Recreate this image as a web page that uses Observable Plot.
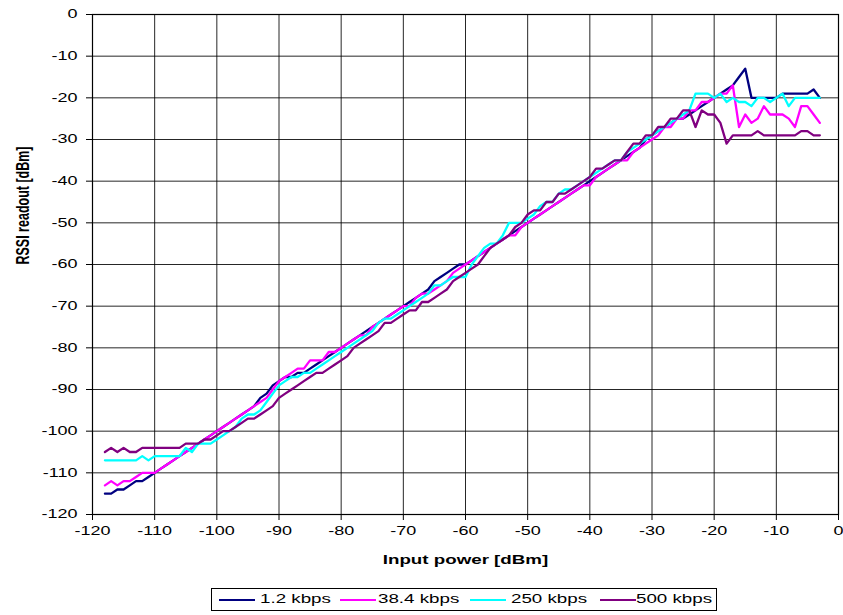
<!DOCTYPE html>
<html>
<head>
<meta charset="utf-8">
<script src="https://cdn.jsdelivr.net/npm/d3@7"></script>
<script src="https://cdn.jsdelivr.net/npm/@observablehq/plot@0.6"></script>
<style>
  html, body { margin: 0; padding: 0; background: #fff; }
  body { position: relative; width: 843px; height: 615px; font-family: "Liberation Sans", Arial, sans-serif; }
  #chart svg { display: block; }
  #legend { position: absolute; top: 588px; left: 211px; width: 506px; height: 23px; border: 1px solid #000; box-sizing: border-box; background: #fff; }
  #legend .ln { position: absolute; top: 10px; height: 2px; }
  #legend .tx { position: absolute; top: 3px; font-size: 12.5px; line-height: 15px; white-space: nowrap; transform: scaleX(1.5); transform-origin: 0 50%; color: #000; }
</style>
</head>
<body>
<div id="chart"></div>
<div id="legend"></div>
<script>
// ---- data ----
const xTitle = "Input power [dBm]";
const yTitle = "RSSI readout [dBm]";
const xTicks = [-120, -110, -100, -90, -80, -70, -60, -50, -40, -30, -20, -10, 0];
const yTicks = [-120, -110, -100, -90, -80, -70, -60, -50, -40, -30, -20, -10, 0];
const seriesNames = ["1.2 kbps", "38.4 kbps", "250 kbps", "500 kbps"];
const seriesColors = ["#000080", "#ff00ff", "#00ffff", "#800080"];

const inputPower = [
  -118,-117,-116,-115,-114,-113,-112,-111,-110,-109,
  -108,-107,-106,-105,-104,-103,-102,-101,-100,-99,
  -98,-97,-96,-95,-94,-93,-92,-91,-90,-89,
  -88,-87,-86,-85,-84,-83,-82,-81,-80,-79,
  -78,-77,-76,-75,-74,-73,-72,-71,-70,-69,
  -68,-67,-66,-65,-64,-63,-62,-61,-60,-59,
  -58,-57,-56,-55,-54,-53,-52,-51,-50,-49,
  -48,-47,-46,-45,-44,-43,-42,-41,-40,-39,
  -38,-37,-36,-35,-34,-33,-32,-31,-30,-29,
  -28,-27,-26,-25,-24,-23,-22,-21,-20,-19,
  -18,-17,-16,-15,-14,-13,-12,-11,-10,-9,
  -8,-7,-6,-5,-4,-3
];

const rssi1k2 = [
  -115,-115,-114,-114,-113,-112,-112,-111,-110,-109,
  -108,-107,-106,-105,-104,-103,-102,-101,-100,-99,
  -98,-97,-96,-95,-94,-92,-91,-89,-88,-87,
  -87,-86,-86,-85,-84,-83,-82,-81,-80,-79,
  -78,-77,-76,-75,-74,-73,-72,-71,-70,-69,
  -68,-67,-66,-64,-63,-62,-61,-60,-60,-59,
  -58,-57,-56,-55,-54,-53,-52,-51,-50,-49,
  -48,-47,-46,-45,-44,-43,-42,-41,-40,-39,
  -38,-37,-36,-35,-34,-33,-32,-30,-29,-28,
  -27,-26,-25,-25,-24,-23,-22,-21,-20,-19,
  -18,-17,-15,-13,-20,-20,-20,-20,-20,-19,
  -19,-19,-19,-19,-18,-20
];

const rssi38k4 = [
  -113,-112,-113,-112,-112,-111,-110,-110,-110,-109,
  -108,-107,-106,-105,-104,-103,-102,-101,-100,-99,
  -98,-97,-96,-95,-94,-93,-92,-90,-88,-87,
  -86,-85,-85,-83,-83,-83,-81,-81,-80,-79,
  -78,-77,-77,-75,-74,-73,-72,-71,-70,-70,
  -68,-67,-67,-66,-65,-64,-62,-61,-60,-59,
  -58,-57,-56,-55,-54,-53,-53,-51,-50,-49,
  -48,-47,-46,-45,-44,-43,-42,-41,-41,-39,
  -38,-37,-36,-35,-35,-33,-32,-31,-30,-29,
  -27,-27,-25,-25,-23,-23,-21,-21,-20,-19,
  -19,-17,-27,-24,-26,-25,-22,-24,-24,-24,
  -25,-27,-22,-22,-24,-26
];

const rssi250k = [
  -107,-107,-107,-107,-107,-107,-106,-107,-106,-106,
  -106,-106,-106,-104,-105,-103,-103,-103,-102,-101,
  -100,-99,-97,-96,-96,-95,-93,-91,-89,-88,
  -87,-87,-86,-86,-85,-84,-83,-82,-81,-80,
  -79,-78,-77,-76,-74,-73,-73,-72,-71,-70,
  -69,-68,-67,-65,-65,-64,-63,-63,-63,-60,
  -58,-56,-55,-55,-53,-50,-50,-50,-49,-48,
  -46,-45,-45,-43,-42,-42,-41,-40,-39,-38,
  -37,-36,-35,-35,-33,-32,-31,-30,-29,-28,
  -27,-26,-25,-24,-23,-19,-19,-19,-20,-19,
  -21,-20,-21,-21,-22,-20,-20,-21,-20,-19,
  -22,-20,-20,-20,-20,-20
];

const rssi500k = [
  -105,-104,-105,-104,-105,-105,-104,-104,-104,-104,
  -104,-104,-104,-103,-103,-103,-102,-102,-101,-100,
  -100,-99,-98,-97,-97,-96,-95,-94,-92,-91,
  -90,-89,-88,-87,-86,-86,-85,-84,-83,-82,
  -80,-79,-78,-77,-76,-74,-74,-73,-72,-71,
  -71,-69,-69,-68,-67,-66,-64,-63,-62,-61,
  -60,-58,-56,-55,-54,-53,-51,-50,-48,-47,
  -47,-45,-45,-43,-43,-42,-41,-40,-39,-37,
  -37,-36,-35,-35,-33,-31,-31,-29,-29,-27,
  -27,-25,-25,-23,-23,-27,-23,-24,-24,-26,
  -31,-29,-29,-29,-29,-28,-29,-29,-29,-29,
  -29,-29,-28,-28,-29,-29
];

const seriesValues = [rssi1k2, rssi38k4, rssi250k, rssi500k];

// table for the library
const rows = [];
seriesNames.forEach((name, i) => {
  seriesValues[i].forEach((v, j) => rows.push({power: inputPower[j], rssi: v, series: name}));
});

const fmt = d => String(d);

const chart = Plot.plot({
  width: 843,
  height: 580,
  marginLeft: 92,
  marginRight: 5,
  marginTop: 14,
  marginBottom: 66,
  style: {fontFamily: "'Liberation Sans', Arial, sans-serif", fontSize: "12px", color: "#000", background: "#fff"},
  x: {domain: [-120, 0]},
  y: {domain: [-120, 0]},
  color: {domain: seriesNames, range: seriesColors},
  marks: [
    Plot.gridX(xTicks, {stroke: "#000", strokeOpacity: 0.85, strokeWidth: 1}),
    Plot.gridY(yTicks, {stroke: "#000", strokeOpacity: 0.85, strokeWidth: 1}),
    Plot.frame({stroke: "#000", strokeWidth: 1.2}),
    Plot.axisX(xTicks, {tickSize: 6, tickPadding: 6, tickFormat: fmt, label: null, fontSize: 12}),
    Plot.axisY(yTicks, {tickSize: 6, tickPadding: 9, tickFormat: fmt, label: null, fontSize: 12}),
    Plot.line(rows, {x: "power", y: "rssi", z: "series", stroke: "series", strokeWidth: 2.3, strokeLinejoin: "round"}),
    Plot.text([xTitle], {text: d => d, frameAnchor: "bottom", dy: 49, fontWeight: "bold", fontSize: 12.5}),
    Plot.text([yTitle], {text: d => d, frameAnchor: "left", dx: -70, rotate: -90, fontWeight: "bold", fontSize: 12.5})
  ]
});

// horizontally stretched text, as in the reference rendering
chart.querySelectorAll("text").forEach(t => {
  const tr = t.getAttribute("transform") || "";
  if (t.textContent === yTitle) t.setAttribute("transform", tr + " scale(1,1.5)");
  else t.setAttribute("transform", tr + " scale(1.5,1)");
});

document.getElementById("chart").appendChild(chart);

// legend
const legendLinePos = [7, 128, 258, 388];
const legendTextPos = [48, 166, 299, 424];
const legend = document.getElementById("legend");
seriesNames.forEach((name, i) => {
  const ln = document.createElement("div");
  ln.className = "ln";
  ln.style.left = legendLinePos[i] + "px";
  ln.style.width = "36px";
  ln.style.background = seriesColors[i];
  legend.appendChild(ln);
  const tx = document.createElement("div");
  tx.className = "tx";
  tx.style.left = legendTextPos[i] + "px";
  tx.textContent = name;
  legend.appendChild(tx);
});
</script>
</body>
</html>
